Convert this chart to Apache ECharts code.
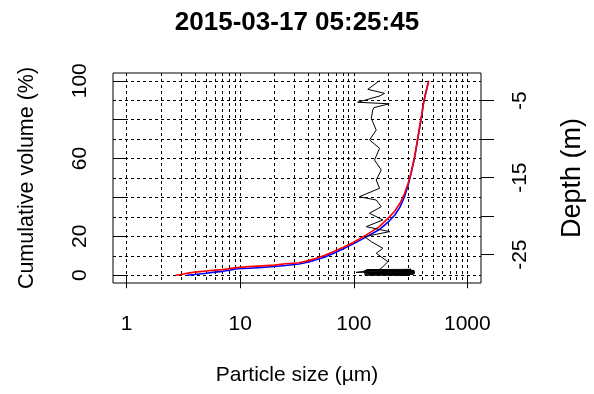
<!DOCTYPE html>
<html>
<head>
<meta charset="utf-8">
<script src="https://cdn.jsdelivr.net/npm/echarts@6/dist/echarts.min.js"></script>
<style>
    html, body { margin: 0; padding: 0; background: #fff; }
    #chart { width: 594px; height: 394px; }
</style>
</head>
<body>
<div id="chart"></div>
<script>
const titleText = '2015-03-17 05:25:45';

// axis ticks
const sizeTicks = [1, 10, 100, 1000];
const sizeGridLines = [1, 2, 3, 4, 5, 6, 7, 8, 9, 10, 20, 30, 40, 50, 60, 70, 80, 90,
    100, 200, 300, 400, 500, 600, 700, 800, 900, 1000];
const volumeTicks = [0, 20, 40, 60, 80, 100];
const volumeLabels = [0, 20, 60, 100];
const volumeGridLines = [0, 10, 20, 30, 40, 50, 60, 70, 80, 90, 100];
const depthTicks = [-5, -10, -15, -20, -25];
const depthLabels = [-5, -15, -25];

// cumulative volume curves (size in µm, volume in %)
const redSize = [2.7, 3.0, 3.55, 4.2, 5, 6, 7, 8, 9.4, 12, 15.6, 20, 25, 33, 40, 46, 55, 65, 80, 98,
    128, 168, 206, 230, 255, 280, 300, 320, 343, 362, 380, 395, 410, 430, 457];
const redVolume = [0, 0.4, 1.2, 1.7, 2.2, 2.6, 2.9, 3.4, 4.0, 4.4, 4.8, 5.2, 5.9, 6.4, 7.5, 8.6, 10.2, 12.0, 14.3, 16.7,
    20.6, 25.0, 30, 33, 37, 42, 47, 53, 61, 69, 76.5, 82, 88.5, 94, 100];
const blueSize = [3.4, 4, 5, 6, 7, 8, 9.4, 12, 15.6, 20, 25, 33, 40, 46, 55, 65, 80, 98,
    128, 168, 206, 230, 255, 280, 300, 320, 343, 362, 380, 395, 410, 430, 452];
const blueVolume = [0, 0.4, 1.0, 1.6, 2.0, 2.6, 3.3, 3.6, 4.0, 4.5, 5.0, 5.8, 6.8, 7.8, 9.3, 11.0, 13.5, 16.0,
    19.6, 23.5, 28, 31, 35, 40.5, 46, 52.5, 60.5, 68.5, 76, 81.5, 88, 93.5, 99];

// depth profile (size in µm, depth in m)
const profileSize = [168.6, 132.9, 186.6, 168.6, 108, 205, 150, 147, 142.5, 157.6, 137.6, 168.6, 152.3,
    174.5, 157.6, 168.6, 112, 157.6, 174.5, 137.6, 180.3, 128.7, 206.6, 124.3, 142.5, 180.3, 157.6,
    199.6, 180.3, 170, 105, 343, 124, 340, 130, 320, 140, 343, 124, 335, 125, 300, 150, 343, 124, 330,
    128, 343, 135, 325, 124, 310];
const profileDepth = [-2.40, -3.52, -4.04, -4.39, -5.2, -5.4, -5.9, -6.21, -7.29, -8.81, -10.1, -11.18, -12.7,
    -14.0, -15.3, -16.38, -17.47, -17.9, -18.77, -19.62, -20.49, -21.36, -22.01, -22.66, -23.31, -24.17, -24.82,
    -25.91, -26.56, -26.9, -27.3, -27.2, -27.1, -27.05, -26.95, -26.9, -27.4, -27.35, -27.5, -27.55, -27.65, -27.7,
    -27.45, -27.45, -27.25, -27.15, -27.0, -27.3, -27.6, -27.5, -27.35, -27.2];

const lg = v => Math.log10(v);
const pairs = (xs, ys) => xs.map((x, i) => [lg(x), ys[i]]);

const font = 'Liberation Sans, Arial, sans-serif';
const dotted = { color: '#000', width: 1, type: [3, 3] };
const xMin = -0.12, xMax = 3.12;

const chart = echarts.init(document.getElementById('chart'));
chart.setOption({
    animation: false,
    backgroundColor: '#fff',
    textStyle: { fontFamily: font },
    title: {
        text: titleText,
        left: 'center',
        top: 5,
        textStyle: { fontFamily: font, fontSize: 26, fontWeight: 'bold', color: '#000' }
    },
    grid: {
        left: 113, right: 113, top: 73, bottom: 111,
        show: true, borderColor: '#000', borderWidth: 1, backgroundColor: 'transparent'
    },
    xAxis: [
        {
            type: 'value', min: xMin, max: xMax, position: 'bottom',
            name: 'Particle size (µm)', nameLocation: 'middle', nameGap: 82,
            nameTextStyle: { fontFamily: font, fontSize: 21, color: '#000' },
            axisLine: { show: false },
            axisTick: { show: true, length: 13, customValues: sizeTicks.map(lg), lineStyle: { color: '#000' } },
            axisLabel: {
                customValues: sizeTicks.map(lg), margin: 31,
                fontFamily: font, fontSize: 21, color: '#000',
                formatter: v => String(Math.round(Math.pow(10, v)))
            },
            splitLine: { show: false }
        },
        {
            type: 'value', min: xMin, max: xMax, position: 'bottom',
            axisLine: { show: false },
            axisTick: { show: false, customValues: sizeGridLines.map(lg) },
            axisLabel: { show: false },
            splitLine: { show: true, lineStyle: dotted }
        }
    ],
    yAxis: [
        {
            type: 'value', min: -4, max: 104, position: 'left',
            name: 'Cumulative volume (%)', nameLocation: 'middle', nameGap: 75,
            nameTextStyle: { fontFamily: font, fontSize: 21.5, color: '#000' },
            axisLine: { show: false },
            axisTick: { show: true, length: 13, customValues: volumeTicks, lineStyle: { color: '#000' } },
            axisLabel: { customValues: volumeLabels, rotate: 90, margin: 22, fontFamily: font, fontSize: 21, color: '#000' },
            splitLine: { show: false }
        },
        {
            type: 'value', min: -4, max: 104, position: 'left',
            axisLine: { show: false },
            axisTick: { show: false, customValues: volumeGridLines },
            axisLabel: { show: false },
            splitLine: { show: true, lineStyle: dotted }
        },
        {
            type: 'value', min: -28.68, max: -1.4, position: 'right',
            name: 'Depth (m)', nameLocation: 'middle', nameGap: 78,
            nameTextStyle: { fontFamily: font, fontSize: 27, color: '#000' },
            axisLine: { show: false },
            axisTick: { show: true, length: 13, customValues: depthTicks, lineStyle: { color: '#000' } },
            axisLabel: { customValues: depthLabels, rotate: 90, margin: 29, fontFamily: font, fontSize: 21, color: '#000' },
            splitLine: { show: false }
        }
    ],
    series: [
        {
            name: 'blue', type: 'line', xAxisIndex: 0, yAxisIndex: 0,
            data: pairs(blueSize, blueVolume), showSymbol: false, symbol: 'none',
            lineStyle: { color: '#0000ff', width: 1.6 }, z: 3
        },
        {
            name: 'red', type: 'line', xAxisIndex: 0, yAxisIndex: 0,
            data: pairs(redSize, redVolume), showSymbol: false, symbol: 'none',
            lineStyle: { color: '#ff0000', width: 1.6 }, z: 4
        },
        {
            name: 'depth', type: 'line', xAxisIndex: 0, yAxisIndex: 2,
            data: pairs(profileSize, profileDepth), showSymbol: false, symbol: 'none',
            lineStyle: { color: '#000', width: 1 }, z: 5
        }
    ]
});
</script>
</body>
</html>
